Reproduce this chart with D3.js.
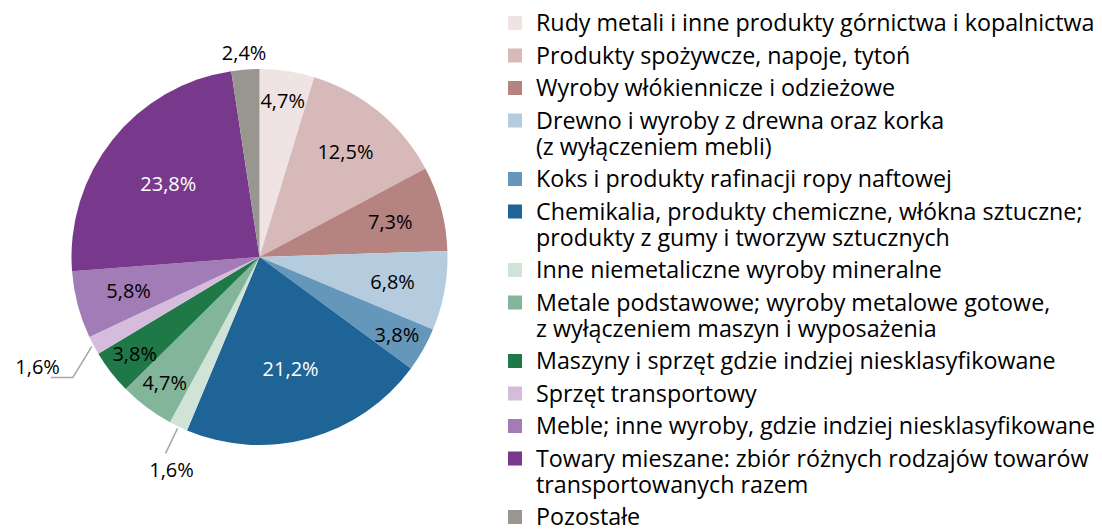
<!DOCTYPE html>
<html>
<head>
<meta charset="utf-8">
<script src="https://cdn.jsdelivr.net/npm/d3@7"></script>
<style>
  body { margin: 0; background: #fff; }
  text { font-family: "Open Sans", Lato, sans-serif; }
</style>
</head>
<body>
<div id="chart"></div>
<script>
// categories (legend order = slice order, clockwise from 12 o'clock)
var categories = [
  "Rudy metali i inne produkty górnictwa i kopalnictwa",
  "Produkty spożywcze, napoje, tytoń",
  "Wyroby włókiennicze i odzieżowe",
  "Drewno i wyroby z drewna oraz korka\n(z wyłączeniem mebli)",
  "Koks i produkty rafinacji ropy naftowej",
  "Chemikalia, produkty chemiczne, włókna sztuczne;\nprodukty z gumy i tworzyw sztucznych",
  "Inne niemetaliczne wyroby mineralne",
  "Metale podstawowe; wyroby metalowe gotowe,\nz wyłączeniem maszyn i wyposażenia",
  "Maszyny i sprzęt gdzie indziej niesklasyfikowane",
  "Sprzęt transportowy",
  "Meble; inne wyroby, gdzie indziej niesklasyfikowane",
  "Towary mieszane: zbiór różnych rodzajów towarów\ntransportowanych razem",
  "Pozostałe"
];
var values = [4.7, 12.5, 7.3, 6.8, 3.8, 21.2, 1.6, 4.7, 3.8, 1.6, 5.8, 23.8, 2.4];
var colors = ["#efe3e3", "#d8b9b9", "#b58380", "#b4ccdd", "#6497b9", "#1e6496", "#cfe3d6",
              "#82b59a", "#1e7848", "#d6bcdc", "#a27cb6", "#78398c", "#99958f"];

var width = 1102, height = 529;
var cx = 259.5, cy = 257, radius = 188;
var labelSize = 20;

var svg = d3.select("#chart").append("svg")
  .attr("width", width)
  .attr("height", height);

var fmt = function(v) { return d3.format(".1f")(v).replace(".", ",") + "%"; };

var pie = d3.pie().sort(null).value(function(d) { return d; });
var arcs = pie(values);
var arc = d3.arc().innerRadius(0).outerRadius(radius);

var g = svg.append("g").attr("transform", "translate(" + cx + "," + cy + ")");

g.selectAll("path.slice")
  .data(arcs)
  .join("path")
    .attr("class", "slice")
    .attr("d", arc)
    .attr("fill", function(d, i) { return colors[i]; });

// label placement: big slices closer to centre, narrow ones pushed out
function labelRadius(v) {
  if (v < 3) return radius * 1.09;
  if (v < 5) return radius * 0.84;
  if (v < 15) return radius * 0.72;
  return radius * 0.62;
}
function pt(a, r) { return [Math.sin(a) * r, -Math.cos(a) * r]; }

var labels = g.append("g");
arcs.forEach(function(d, i) {
  var v = values[i];
  var mid = (d.startAngle + d.endAngle) / 2;
  var txtColor = (i === 5 || i === 11) ? "#fff" : "#000";
  if (v < 2) {
    // outside label with leader line
    var p0 = pt(mid, radius + 2);
    var deg = mid * 180 / Math.PI;
    if (deg > 225) {
      var p1 = [p0[0] - 19, p0[1] + 31];
      var p2 = [p1[0] - 22, p1[1]];
      labels.append("path")
        .attr("d", d3.line()([p0, p1, p2]))
        .attr("fill", "none").attr("stroke", "#a6a6a6").attr("stroke-width", 1.5);
      labels.append("text")
        .attr("x", p2[0] + 9).attr("y", p2[1] - 10)
        .attr("dy", "0.35em")
        .attr("text-anchor", "end")
        .attr("font-size", labelSize)
        .text(fmt(v));
    } else {
      var p1 = [p0[0] - 12, p0[1] + 25];
      labels.append("path")
        .attr("d", d3.line()([p0, p1]))
        .attr("fill", "none").attr("stroke", "#a6a6a6").attr("stroke-width", 1.5);
      labels.append("text")
        .attr("x", p1[0] + 6).attr("y", p1[1] + 17)
        .attr("dy", "0.35em")
        .attr("text-anchor", "middle")
        .attr("font-size", labelSize)
        .text(fmt(v));
    }
  } else {
    var p = pt(mid, labelRadius(v));
    labels.append("text")
      .attr("x", p[0]).attr("y", p[1])
      .attr("dy", "0.35em")
      .attr("text-anchor", "middle")
      .attr("font-size", labelSize)
      .attr("fill", txtColor)
      .text(fmt(v));
  }
});

// legend
var legend = svg.append("g").attr("transform", "translate(508,0)");
// fit the legend font so the longest entry spans the same width as the original
var probe = legend.append("text").attr("font-size", 20).text(categories[0]);
var legendSize = 20 * 559 / probe.node().getComputedTextLength();
probe.remove();

var y = 23, lineH = 26, gap = 32.5;
categories.forEach(function(c, i) {
  var lines = c.split("\n");
  legend.append("rect")
    .attr("x", 0).attr("y", y - 7)
    .attr("width", 14).attr("height", 14)
    .attr("fill", colors[i]);
  var t = legend.append("text")
    .attr("x", 28).attr("y", y)
    .attr("font-size", legendSize)
    .attr("fill", "#000");
  lines.forEach(function(l, j) {
    t.append("tspan")
      .attr("x", 28)
      .attr("y", y + j * lineH)
      .attr("dy", "0.35em")
      .text(l);
  });
  y += (lines.length - 1) * lineH + gap;
});
</script>
</body>
</html>
